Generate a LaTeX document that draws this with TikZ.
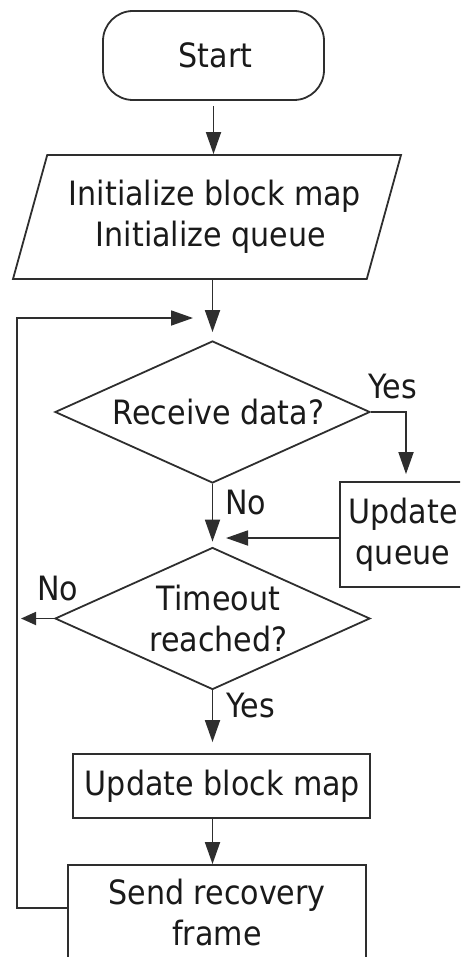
\documentclass[tikz,border=0pt]{standalone}
\usepackage{fontspec}
\setmainfont{DejaVu Sans Condensed}
\usetikzlibrary{shapes.geometric,arrows.meta}
\definecolor{linec}{HTML}{2E2E2E}
\definecolor{txtc}{HTML}{1A1A1A}
\newcommand{\indentby}[1]{\hspace*{#1pt}}
\tikzset{
  every node/.style={font=\fontsize{33.5}{41}\selectfont, text=txtc},
  shapeline/.style={draw=linec, line width=1.8pt},
  flowbox/.style={shapeline, rectangle, inner sep=0pt, align=center},
  decision/.style={shapeline, diamond, aspect=2.2, inner sep=0pt, align=center,
    minimum width=315pt, minimum height=142pt},
  iobox/.style={shapeline, trapezium, trapezium left angle=65, trapezium right angle=115,
    trapezium stretches body, inner sep=0pt, align=center,
    minimum width=388pt, minimum height=124pt},
  conn/.style={draw=linec, line width=1.8pt, -{Triangle[length=22pt,width=15pt]}},
  connsmall/.style={draw=linec, line width=1.8pt, -{Triangle[length=15pt,width=13pt]}},
  lbl/.style={inner sep=0pt}
}
\begin{document}
\begin{tikzpicture}[x=1pt, y=-1pt]
  \useasboundingbox (0,0) rectangle (460,957);
  \clip (0,0) rectangle (460,957);

  % process steps
  \node[flowbox, rounded corners=30pt, minimum width=221pt, minimum height=89pt]
    (start) at (213.5,55.5) {\indentby{4}Start};
  \node[iobox] (init) at (207,217)
    {\indentby{16}Initialize block map\\\indentby{8}Initialize queue};
  \node[decision] (recv) at (212.5,412) {\indentby{12}Receive data?};
  \node[flowbox, minimum width=126pt, minimum height=105pt]
    (queue) at (403,534.5) {Update\\queue};
  \node[decision] (tmo) at (212.5,618.5)
    {\indentby{12}Timeout\\\indentby{12}reached?};
  \node[flowbox, minimum width=297pt, minimum height=64pt]
    (bmap) at (221.5,786) {\indentby{2}Update block map};
  \node[flowbox, minimum width=298pt, minimum height=94pt]
    (send) at (217,912) {Send recovery\\frame};

  % junction points
  \coordinate (loopin) at (193,318);
  \coordinate (qin) at (226,538);
  \coordinate (noout) at (21,618.5);

  % branch labels
  \node[lbl] (yes1) at (393,386.5) {Yes};
  \node[lbl] (no1) at (245.5,502.5) {No};
  \node[lbl] (no2) at (57.5,589) {No};
  \node[lbl] (yes2) at (251,706) {Yes};

  % connectors
  \draw[conn] ([yshift=-5pt]start.south) -- (start.south |- init.north);
  \draw[conn] (init.south -| recv.north) -- ([yshift=8pt]recv.north);
  \draw[conn] ([yshift=4pt]send.west) -- ++(-50,0) |- (loopin);
  \draw[conn] (recv.east) -| ([xshift=3pt,yshift=7pt]queue.north);
  \draw[conn] (recv.south) -- ([yshift=5pt]tmo.north);
  \draw[conn] (queue.west |- qin) -- (qin);
  \draw[connsmall] (tmo.west) -- (noout);
  \draw[conn] (tmo.south) -- ([yshift=11pt]tmo.south |- bmap.north);
  \draw[conn] (bmap.south -| tmo.south) -- (tmo.south |- send.north);
\end{tikzpicture}
\end{document}
